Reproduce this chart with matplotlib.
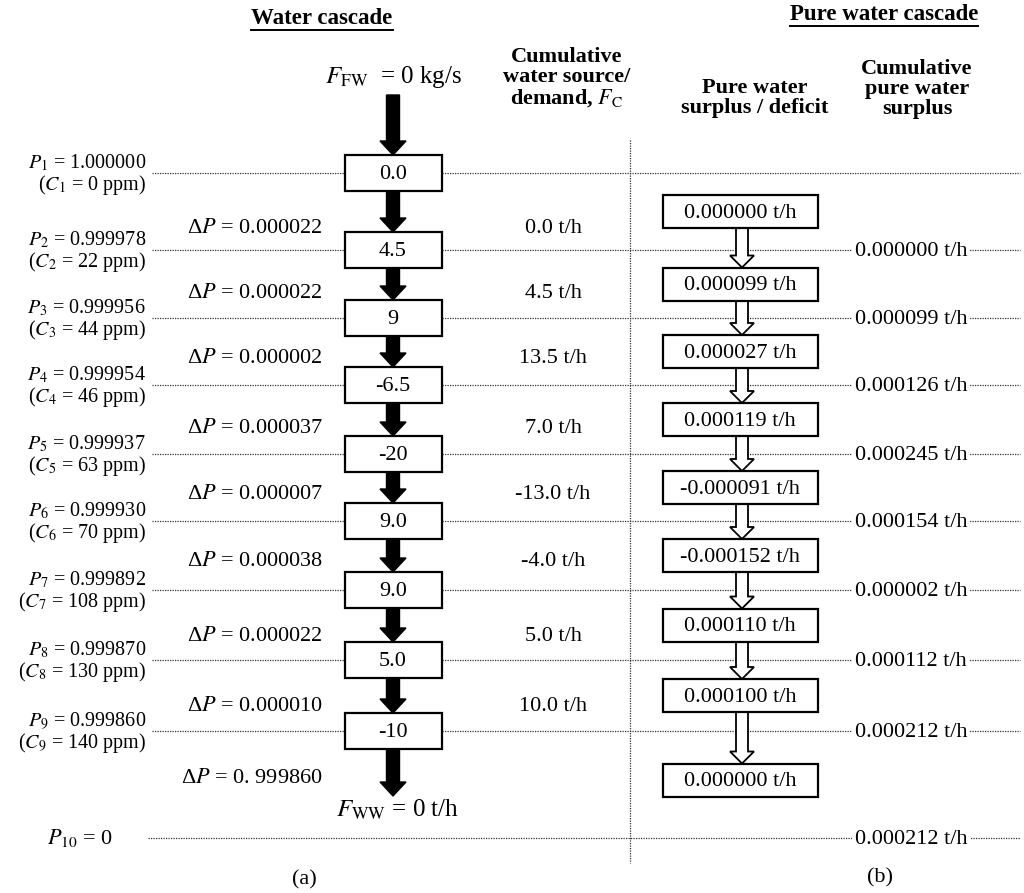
import matplotlib
matplotlib.use("Agg")
import matplotlib.pyplot as plt
from matplotlib.patches import Rectangle, FancyArrow

plt.rcParams["font.family"] = ["Liberation Serif", "DejaVu Serif"]
plt.rcParams["mathtext.fontset"] = "stix"

# Water cascade data (levels P1..P10)
purity = ["1.000000", "0.999978", "0.999956", "0.999954", "0.999937",
          "0.999930", "0.999892", "0.999870", "0.999860"]
conc_ppm = [0, 22, 44, 46, 63, 70, 108, 130, 140]
net_flow = ["0.0", "4.5", "9", "-6.5", "-20", "9.0", "9.0", "5.0", "-10"]
delta_p = ["0.000022", "0.000022", "0.000002", "0.000037", "0.000007",
           "0.000038", "0.000022", "0.000010", "0. 999860"]
cum_flow = ["0.0", "4.5", "13.5", "7.0", "-13.0", "-4.0", "5.0", "10.0"]

# Pure water cascade data
pure_surplus = ["0.000000", "0.000099", "0.000027", "0.000119", "-0.000091",
                "-0.000152", "0.000110", "0.000100", "0.000000"]
cum_pure = ["0.000000", "0.000099", "0.000126", "0.000245", "0.000154",
            "0.000002", "0.000112", "0.000212", "0.000212"]

# layout (pixel units, y down)
level_y = [173, 250, 318, 385, 454, 521, 590, 660, 731, 838]
label_y = [227, 292, 357, 427, 493, 560, 635, 705, 777]
wx, wbox_w, wbox_h = 393, 97, 36
px, pbox_w, pbox_h = 740, 155, 33
fs = 16
dy = 1.5  # small baseline nudge so numbers sit centred

fig = plt.figure(figsize=(10.24, 8.93), dpi=100)
ax = fig.add_axes([0, 0, 1, 1])
ax.set_xlim(0, 1024)
ax.set_ylim(893, 0)
ax.axis("off")

# titles
t1 = ax.text(322, 18, "Water cascade", ha="center", va="center", fontsize=16.5, fontweight="bold")
t2 = ax.text(884, 14, "Pure water cascade", ha="center", va="center", fontsize=16.5, fontweight="bold")

# column headers
ax.text(567, 78, "Cumulative\nwater source/\ndemand, $\\mathbf{\\mathit{F}}_\\mathrm{C}$", ha="center", va="center",
        fontsize=fs, fontweight="bold", linespacing=1.0)
ax.text(755, 98, "Pure water\nsurplus / deficit", ha="center", va="center",
        fontsize=fs, fontweight="bold", linespacing=1.0)
ax.text(917, 89, "Cumulative\npure water\nsurplus", ha="center", va="center",
        fontsize=fs, fontweight="bold", linespacing=1.0)

dot = dict(color="#333333", linestyle=(0, (1, 1)), linewidth=0.9)

# vertical separator
ax.plot([630, 630], [140, 863], **dot)

# horizontal level lines + labels
for i, y in enumerate(level_y):
    if i < len(purity):
        ax.plot([152, 1020], [y, y], zorder=1, **dot)
        ax.text(146, y - 10, f"$P_{{{i + 1}}}$ = {purity[i]}", ha="right", va="center", fontsize=14.5)
        ax.text(146, y + 12, f"($C_{{{i + 1}}}$ = {conc_ppm[i]} ppm)", ha="right", va="center", fontsize=14.5)
    else:
        ax.plot([148, 1020], [y, y], zorder=1, **dot)
        ax.text(80, y, f"$P_{{{i + 1}}}$ = 0", ha="center", va="center", fontsize=fs)
    if i > 0:
        ax.text(855, y + dy, f"{cum_pure[i - 1]} t/h", ha="left", va="center", fontsize=fs, zorder=3,
                bbox=dict(facecolor="white", edgecolor="none", pad=2))

# water cascade boxes and arrows
ax.text(wx, 77, "$F_\\mathrm{FW}$  = 0 kg/s", ha="center", va="center", fontsize=fs + 2)
ax.add_patch(FancyArrow(wx, 95, 0, 155 - 95, width=13, head_width=26, head_length=14,
                        length_includes_head=True, color="black", zorder=4))
for i, y in enumerate(level_y[:9]):
    ax.add_patch(Rectangle((wx - wbox_w / 2, y - wbox_h / 2), wbox_w, wbox_h,
                           facecolor="white", edgecolor="black", linewidth=1.6, zorder=5))
    ax.text(wx, y + dy, net_flow[i], ha="center", va="center", fontsize=fs, zorder=6)
    y0 = y + wbox_h / 2
    y1 = level_y[i + 1] - wbox_h / 2 if i < 8 else 796
    ax.add_patch(FancyArrow(wx, y0, 0, y1 - y0, width=13, head_width=26, head_length=14,
                            length_includes_head=True, color="black", zorder=4))
ax.text(397, 810, "$F_\\mathrm{WW}$ = 0 t/h", ha="center", va="center", fontsize=fs + 2)

# interval labels
for i, y in enumerate(label_y):
    ax.text(323, y + dy, f"Δ$P$ = {delta_p[i]}", ha="right", va="center", fontsize=fs)
    if i < len(cum_flow):
        ax.text(553, y + dy, f"{cum_flow[i]} t/h", ha="center", va="center", fontsize=fs)

# pure water cascade boxes and hollow arrows
box_y = [(level_y[k] + level_y[k + 1]) / 2 for k in range(8)] + [780]
for k, y in enumerate(box_y):
    ax.add_patch(Rectangle((px - pbox_w / 2, y - pbox_h / 2), pbox_w, pbox_h,
                           facecolor="white", edgecolor="black", linewidth=1.6, zorder=5))
    ax.text(px, y + dy, f"{pure_surplus[k]} t/h", ha="center", va="center", fontsize=fs, zorder=6)
    if k < len(box_y) - 1:
        y0 = y + pbox_h / 2
        y1 = box_y[k + 1] - pbox_h / 2
        ax.add_patch(FancyArrow(px + 2, y0, 0, y1 - y0, width=12, head_width=24, head_length=12,
                                length_includes_head=True, facecolor="white", edgecolor="black",
                                linewidth=1.3, zorder=4))

# sub-figure labels
ax.text(304, 880, "(a)", ha="center", va="center", fontsize=fs)
ax.text(880, 878, "(b)", ha="center", va="center", fontsize=fs)

# underline titles
fig.canvas.draw()
inv = ax.transData.inverted()
for t in (t1, t2):
    bb = t.get_window_extent()
    (xa, ya), (xb, yb) = inv.transform([[bb.x0, bb.y0], [bb.x1, bb.y1]])
    ax.plot([xa, xb], [ya + 1, ya + 1], color="black", linewidth=1.4)

fig.savefig("out.png", dpi=100)
